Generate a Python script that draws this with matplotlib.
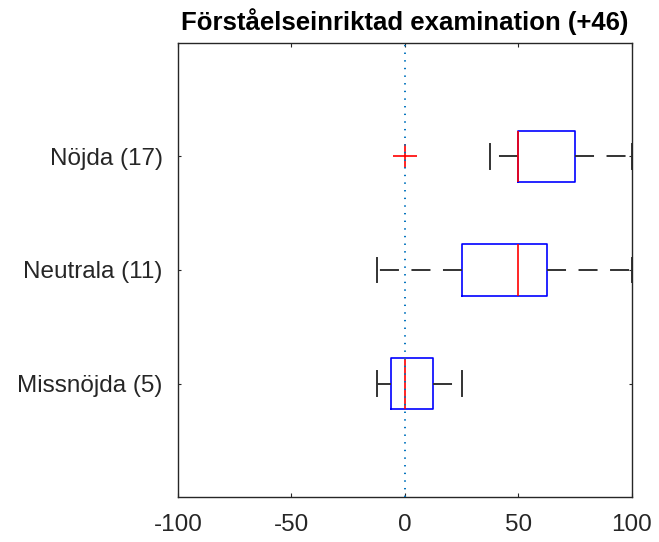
import matplotlib
matplotlib.use('Agg')
import matplotlib.pyplot as plt

plt.rcParams['font.family'] = ['Liberation Sans', 'DejaVu Sans']
plt.rcParams['lines.scale_dashes'] = False

# data (values on the -100..100 scale)
groups  = ['Missnöjda (5)', 'Neutrala (11)', 'Nöjda (17)']
whislo  = [-12.5, -12.5, 37.5]
q1      = [-6.25, 25.0, 50.0]
med     = [0.0, 50.0, 50.0]
q3      = [12.5, 62.5, 75.0]
whishi  = [25.0, 100.0, 100.0]
fliers  = [[], [], [0.0]]
xticks  = [-100, -50, 0, 50, 100]
title   = 'Förståelseinriktad examination (+46)'

stats = []
for i in range(len(groups)):
    stats.append(dict(label=groups[i], whislo=whislo[i], q1=q1[i], med=med[i],
                      q3=q3[i], whishi=whishi[i], fliers=fliers[i]))

fig = plt.figure(figsize=(6.59, 5.42), dpi=100)
ax = fig.add_axes([0.2701, 0.0830, 0.6889, 0.8377])

ax.bxp(stats, positions=[1, 2, 3], widths=0.45, capwidths=0.22,
       orientation='horizontal',
       boxprops=dict(color='#0000ff', linewidth=1.2),
       medianprops=dict(color='#ff0000', linewidth=1.2),
       whiskerprops=dict(color='#333333', linewidth=1.4, linestyle=(0, (13.7, 9))),
       capprops=dict(color='#333333', linewidth=1.4),
       flierprops=dict(marker='+', markeredgecolor='#ff0000', markersize=17,
                       markeredgewidth=1.2))

ax.axvline(0, color='#0072BD', linestyle=(0, (1, 4.5)), linewidth=1.4, zorder=5)

ax.set_xlim(-100, 100)
ax.set_ylim(0, 4)
ax.set_xticks(xticks)
ax.set_xticklabels([str(v) for v in xticks])
ax.set_yticks([1, 2, 3])
ax.set_yticklabels(groups)
ax.tick_params(direction='in', top=True, right=True, width=0.8,
               labelsize=17.5, colors='#262626')
ax.tick_params(axis='x', length=3, pad=12)
ax.tick_params(axis='y', length=2.2, pad=11)
for s in ax.spines.values():
    s.set_color('#262626')
    s.set_linewidth(1.0)

ax.set_title(title, fontsize=18.5, fontweight='bold', pad=9.5)

fig.savefig('out.png', dpi=100)
